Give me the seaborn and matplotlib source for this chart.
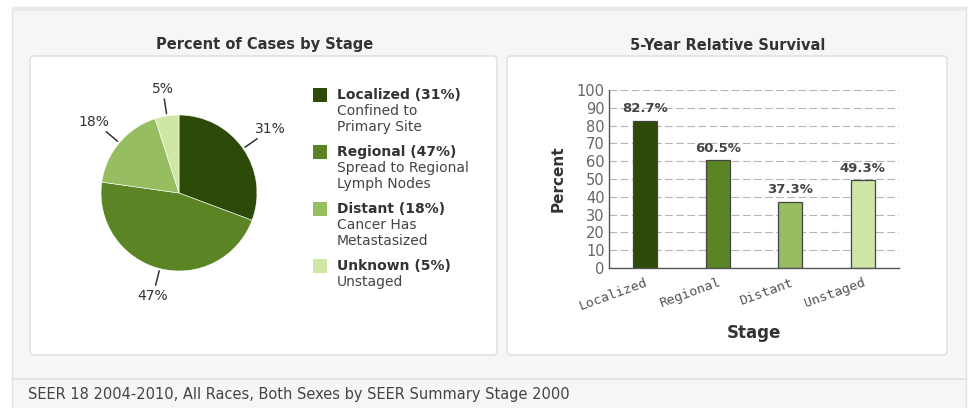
import numpy as np
import pandas as pd
import matplotlib
matplotlib.use("Agg")
import matplotlib.pyplot as plt
from matplotlib.patches import Rectangle, FancyBboxPatch
import seaborn as sns

# ---------------- data ----------------
stage_names = ["Localized", "Regional", "Distant", "Unknown"]
stage_pct = [31, 47, 18, 5]
stage_desc = ["Confined to\nPrimary Site", "Spread to Regional\nLymph Nodes",
              "Cancer Has\nMetastasized", "Unstaged"]
survival_cats = ["Localized", "Regional", "Distant", "Unstaged"]
survival_vals = [82.7, 60.5, 37.3, 49.3]
stage_colors = ["#2e4a08", "#5b8424", "#96bd60", "#cfe6a5"]

pie_title = "Percent of Cases by Stage"
bar_title = "5-Year Relative Survival"
footer = "SEER 18 2004-2010, All Races, Both Sexes by SEER Summary Stage 2000"

sns.set_theme(style="white")
plt.rcParams["font.family"] = ["DejaVu Sans"]

W, H = 971, 408
fig = plt.figure(figsize=(W / 100, H / 100), dpi=100)
fig.patch.set_facecolor("white")

def fr(x0, y0, x1, y1):
    return [x0 / W, 1 - y1 / H, (x1 - x0) / W, (y1 - y0) / H]

# background canvas in pixel coords
bg = fig.add_axes([0, 0, 1, 1], zorder=0)
bg.set_xlim(0, W)
bg.set_ylim(H, 0)
bg.axis("off")
bg.add_patch(Rectangle((12, 7), 954, 410, facecolor="#f5f6f6", edgecolor="#e2e3e3", lw=1))
bg.add_patch(Rectangle((12, 7), 954, 4, facecolor="#e8e9e9", edgecolor="none"))
bg.plot([12, 966], [379, 379], color="#e0e1e1", lw=1.2)
for (x0, y0, x1, y1) in [(30, 56, 497, 355), (507, 56, 947, 355)]:
    bg.add_patch(FancyBboxPatch((x0 + 4, y0 + 4), x1 - x0 - 8, y1 - y0 - 8,
                                boxstyle="round,pad=4", facecolor="white",
                                edgecolor="#dcdddd", lw=1))
bg.text(265, 45, pie_title, ha="center", va="center", fontsize=10.5,
        fontweight="bold", color="#333333")
bg.text(728, 45, bar_title, ha="center", va="center", fontsize=10.5,
        fontweight="bold", color="#333333")
bg.text(28, 395, footer, ha="left", va="center", fontsize=10.5, color="#444444")

# legend
leg_y = [95, 152, 209, 266]
for name, pct, desc, col, y in zip(stage_names, stage_pct, stage_desc, stage_colors, leg_y):
    bg.add_patch(Rectangle((313, y - 7), 14, 14, facecolor=col, edgecolor="none"))
    bg.text(337, y, f"{name} ({pct}%)", ha="left", va="center", fontsize=10,
            fontweight="bold", color="#333333")
    for k, line in enumerate(desc.split("\n")):
        bg.text(337, y + 16 * (k + 1), line, ha="left", va="center", fontsize=10,
                color="#444444")

# ---------------- pie ----------------
R = 78
axp = fig.add_axes(fr(179 - 100, 193 - 100, 179 + 100, 193 + 100), zorder=2)
wedges, _ = axp.pie(stage_pct, colors=stage_colors, startangle=90, counterclock=False,
                    wedgeprops=dict(edgecolor="white", linewidth=0.4))
lim = 100 / R
axp.set_xlim(-lim, lim)
axp.set_ylim(-lim, lim)
axp.set_aspect("equal")
axp.axis("off")
for w, pct in zip(wedges, stage_pct):
    ang = np.deg2rad((w.theta1 + w.theta2) / 2)
    c, s = np.cos(ang), np.sin(ang)
    axp.plot([1.03 * c, 1.22 * c], [1.03 * s, 1.22 * s], color="#333333", lw=1.1,
             clip_on=False)
    rt = 1.33 + 0.12 * abs(c)
    axp.text(rt * c, rt * s, f"{pct}%", ha="center", va="center", fontsize=10,
             color="#333333", clip_on=False)

# ---------------- bar ----------------
axb = fig.add_axes(fr(609, 90, 899, 268), zorder=2)
axb.set_facecolor("none")
df = pd.DataFrame({"Stage": survival_cats, "Percent": survival_vals})
sns.barplot(data=df, x="Stage", y="Percent", hue="Stage", palette=stage_colors,
            saturation=1, legend=False, width=0.33, edgecolor="#444444",
            linewidth=0.9, ax=axb)
axb.set_ylim(0, 100)
axb.set_yticks(np.arange(0, 101, 10))
axb.yaxis.grid(True, linestyle=(0, (7, 3)), color="#b5b5b5", lw=0.8)
axb.set_axisbelow(True)
for sp in ["top", "right"]:
    axb.spines[sp].set_visible(False)
for sp in ["left", "bottom"]:
    axb.spines[sp].set_color("#555555")
    axb.spines[sp].set_linewidth(1)
axb.tick_params(axis="y", length=0, pad=3, labelsize=10.5, labelcolor="#666666")
axb.tick_params(axis="x", length=0, pad=6)
for lab in axb.get_xticklabels():
    lab.set_rotation(20)
    lab.set_ha("right")
    lab.set_rotation_mode("anchor")
    lab.set_family("DejaVu Sans Mono")
    lab.set_fontsize(9.5)
    lab.set_color("#555555")
for p, v in zip(axb.patches, survival_vals):
    axb.annotate(f"{v}%", (p.get_x() + p.get_width() / 2, p.get_height()),
                 xytext=(0, 4), textcoords="offset points", ha="center", va="bottom",
                 fontsize=9.5, fontweight="bold", color="#444444")
axb.set_ylabel("Percent", fontsize=11, fontweight="bold", color="#333333", labelpad=8)
axb.set_xlabel("Stage", fontsize=12, fontweight="bold", color="#333333", labelpad=8)

fig.savefig("out.png", dpi=100)
